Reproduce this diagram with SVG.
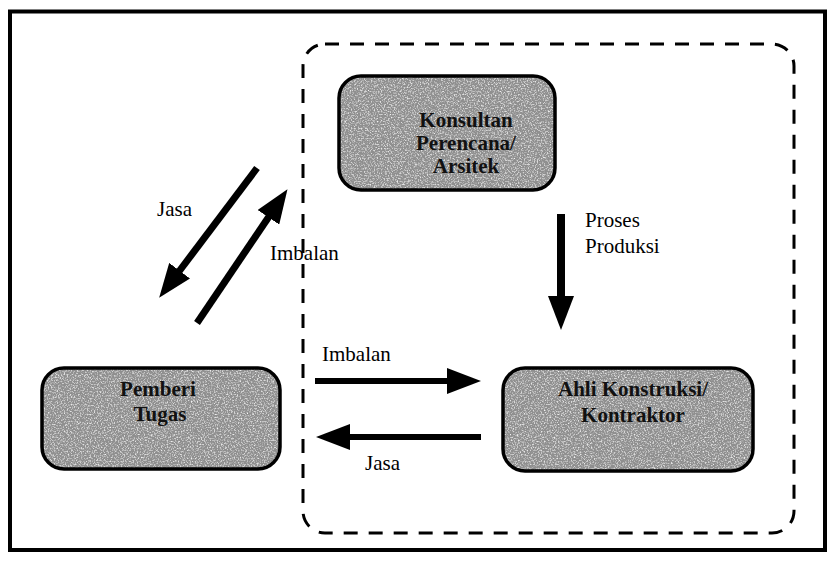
<svg xmlns="http://www.w3.org/2000/svg" width="829" height="561" viewBox="0 0 829 561">
  <style>
    .fill { fill: #8f8f8f; stroke: none; filter: url(#speckle); }
    .edge { fill: none; stroke: #000; stroke-width: 3.5; }
    .ntext { font-family: "Liberation Serif", "DejaVu Serif", "Times New Roman", serif; font-weight: bold; font-size: 21px; fill: #111; text-anchor: middle; }
    .lbl { font-family: "Liberation Serif", "DejaVu Serif", "Times New Roman", serif; font-size: 21px; fill: #000; }
    .arr { stroke: #000; fill: none; }
  </style>
  <defs>
    <marker id="head" markerUnits="userSpaceOnUse" markerWidth="34" markerHeight="26" viewBox="0 0 34 26" refX="1" refY="13" orient="auto">
      <path d="M0,0 L34,13 L0,26 z" fill="#000"/>
    </marker>
    <filter id="speckle" x="0" y="0" width="1" height="1">
      <feTurbulence type="fractalNoise" baseFrequency="0.7" numOctaves="2" seed="7" result="noise"/>
      <feColorMatrix in="noise" type="matrix" values="0 0 0 0 1  0 0 0 0 1  0 0 0 0 1  2.2 0 0 0 -1.05" result="white"/>
      <feComposite in="white" in2="SourceGraphic" operator="in" result="ws"/>
      <feMerge><feMergeNode in="SourceGraphic"/><feMergeNode in="ws"/></feMerge>
    </filter>
  </defs>

  <rect x="0" y="0" width="829" height="561" fill="#fff"/>
  <rect id="frame" x="10" y="11.5" width="815" height="538.5" fill="none" stroke="#000" stroke-width="4"/>
  <rect id="region" x="303" y="44" width="491" height="489" rx="22" fill="none" stroke="#000" stroke-width="3" stroke-dasharray="14 11"/>

  <g id="konsultan">
    <rect class="fill" x="339" y="76" width="216" height="114" rx="22"/>
    <rect class="edge" x="339" y="76" width="216" height="114" rx="22"/>
    <text class="ntext" x="466" y="127">Konsultan</text>
    <text class="ntext" x="466" y="150">Perencana/</text>
    <text class="ntext" x="466" y="173">Arsitek</text>
  </g>

  <g id="pemberi">
    <rect class="fill" x="42" y="368" width="238" height="101" rx="22"/>
    <rect class="edge" x="42" y="368" width="238" height="101" rx="22"/>
    <text class="ntext" x="158" y="396">Pemberi</text>
    <text class="ntext" x="160" y="421">Tugas</text>
  </g>

  <g id="ahli">
    <rect class="fill" x="503" y="368" width="250" height="103" rx="22"/>
    <rect class="edge" x="503" y="368" width="250" height="103" rx="22"/>
    <text class="ntext" x="633" y="396">Ahli Konstruksi/</text>
    <text class="ntext" x="633" y="422">Kontraktor</text>
  </g>

  <g id="connectors">
    <line class="arr" x1="257" y1="168" x2="179" y2="271.5" stroke-width="7" marker-end="url(#head)"/>
    <line class="arr" x1="197" y1="323" x2="269" y2="216.5" stroke-width="7" marker-end="url(#head)"/>
    <line class="arr" x1="315" y1="381" x2="448" y2="381" stroke-width="6" marker-end="url(#head)"/>
    <line class="arr" x1="481" y1="437" x2="349" y2="437" stroke-width="6" marker-end="url(#head)"/>
    <line class="arr" x1="561" y1="214" x2="561" y2="297" stroke-width="8" marker-end="url(#head)"/>
  </g>

  <g id="labels">
    <text class="lbl" x="157" y="216">Jasa</text>
    <text class="lbl" x="270" y="260">Imbalan</text>
    <text class="lbl" x="322" y="361">Imbalan</text>
    <text class="lbl" x="365" y="470">Jasa</text>
    <text class="lbl" x="585" y="227">Proses</text>
    <text class="lbl" x="585" y="253">Produksi</text>
  </g>
</svg>
